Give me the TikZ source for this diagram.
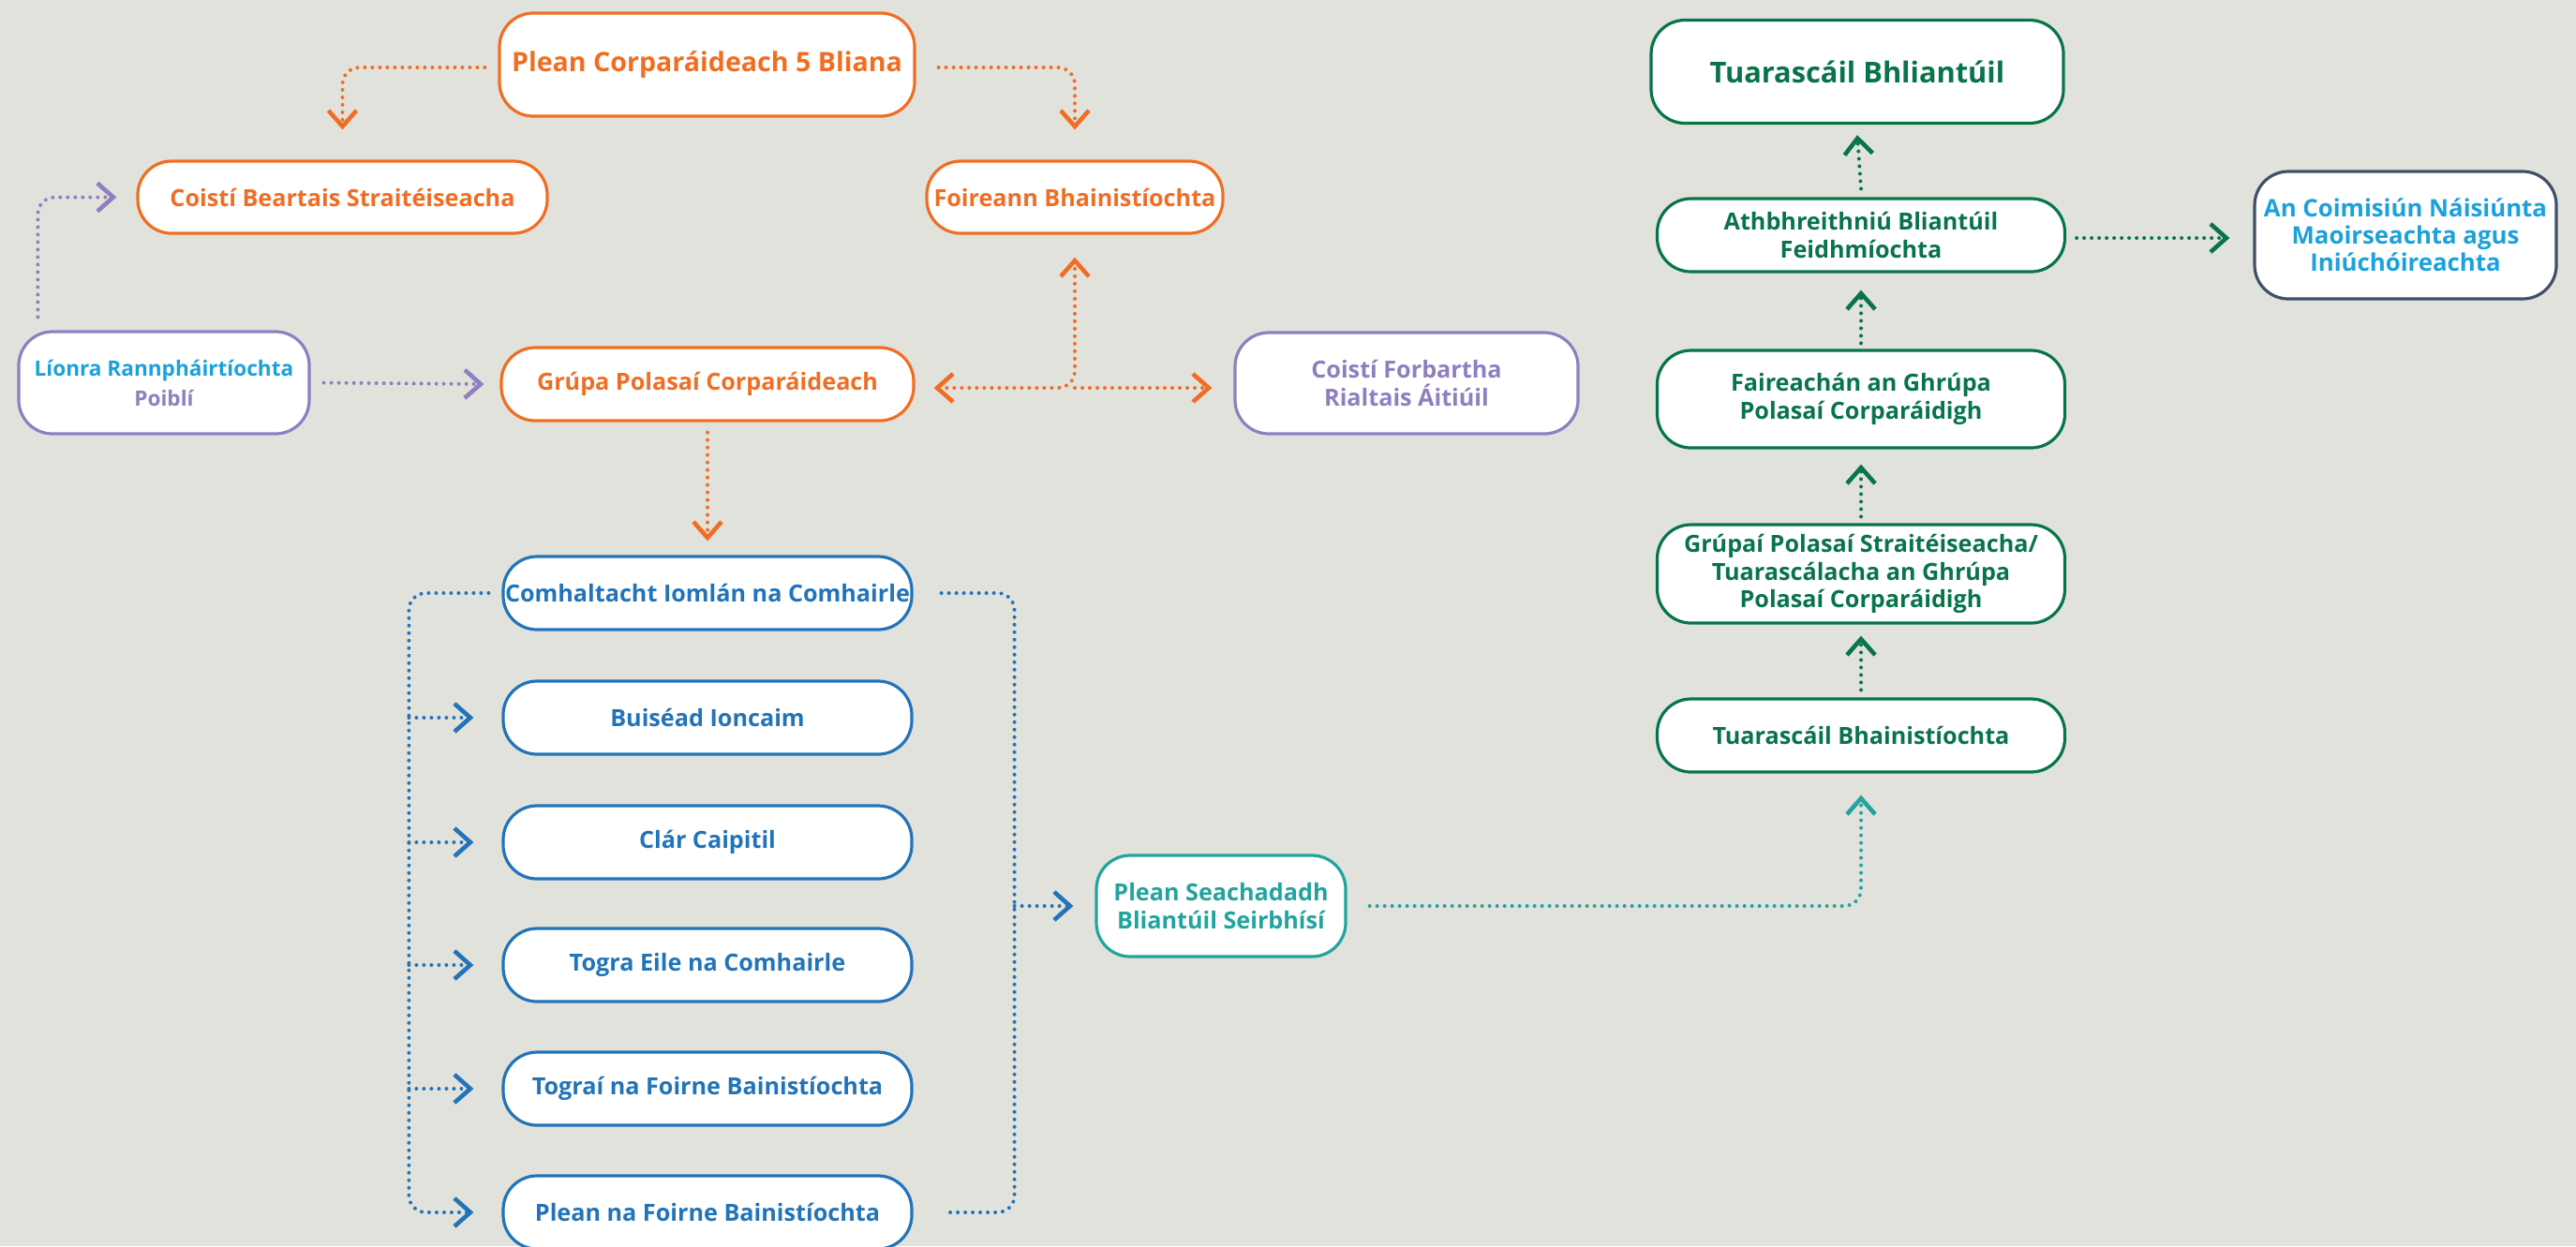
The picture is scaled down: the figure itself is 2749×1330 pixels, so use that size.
\documentclass[tikz,border=0pt]{standalone}
\usepackage{fontspec}
\setmainfont{Open Sans}
\usetikzlibrary{arrows.meta,calc}
\definecolor{bg}{HTML}{E2E2DD}
\definecolor{corange}{HTML}{F06E23}
\definecolor{cpurple}{HTML}{8F7FC0}
\definecolor{cblue}{HTML}{2274B9}
\definecolor{clblue}{HTML}{1BA1DB}
\definecolor{cteal}{HTML}{22A49E}
\definecolor{cgreen}{HTML}{08744A}
\definecolor{cslate}{HTML}{3F5068}
\tikzset{
  box/.style={draw, line width=1.6pt, fill=white, rounded corners=18pt, align=center, inner sep=0pt,
    font=\fontsize{12.6}{14.8}\selectfont\bfseries},
  bigtext/.style={font=\fontsize{14.3}{17}\selectfont\bfseries},
  conn/.style={line width=2pt, line cap=round, dash pattern=on 0pt off 4pt, rounded corners=9pt},
  tip/.style={-{Straight Barb[length=8.5pt,width=15pt,line width=2.3pt]}},
  both/.style={{Straight Barb[length=8.5pt,width=15pt,line width=2.3pt]}-{Straight Barb[length=8.5pt,width=15pt,line width=2.3pt]}},
}
\begin{document}
\begin{tikzpicture}[x=0.5pt,y=-0.5pt]
\useasboundingbox (0,0) rectangle (2749,1330);
\fill[bg] (0,0) rectangle (2749,1330);

% orange group
\node[box, draw=corange, text=corange, bigtext, minimum width=221.5pt, minimum height=55pt] (plan) at (754.5,69) {Plean Corparáideach 5 Bliana};
\node[box, draw=corange, text=corange, minimum width=218.5pt, minimum height=38.5pt] (cbs) at (365.5,210.5) {Coistí Beartais Straitéiseacha};
\node[box, draw=corange, text=corange, minimum width=158pt, minimum height=38.5pt] (foir) at (1147,210.5) {Foireann Bhainistíochta};
\node[box, draw=cpurple, font=\fontsize{11.3}{16}\selectfont\bfseries, minimum width=155pt, minimum height=54.5pt] (lion) at (175,408.5) {\color{clblue}Líonra Rannpháirtíochta\\\color{cpurple}Poiblí};
\node[box, draw=corange, text=corange, minimum width=220pt, minimum height=39pt] (grupa) at (755,410) {Grúpa Polasaí Corparáideach};
\node[box, draw=cpurple, text=cpurple, minimum width=183pt, minimum height=54pt] (cfra) at (1501,409) {Coistí Forbartha\\Rialtais Áitiúil};

% blue group
\node[box, draw=cblue, text=cblue, minimum width=218pt, minimum height=39pt] (b1) at (755,633) {Comhaltacht Iomlán na Comhairle};
\node[box, draw=cblue, text=cblue, minimum width=218pt, minimum height=39pt] (b2) at (755,766) {Buiséad Ioncaim};
\node[box, draw=cblue, text=cblue, minimum width=218pt, minimum height=39pt] (b3) at (755,899) {Clár Caipitil};
\node[box, draw=cblue, text=cblue, minimum width=218pt, minimum height=39pt] (b4) at (755,1030) {Togra Eile na Comhairle};
\node[box, draw=cblue, text=cblue, minimum width=218pt, minimum height=39pt] (b5) at (755,1162) {Tograí na Foirne Bainistíochta};
\node[box, draw=cblue, text=cblue, minimum width=218pt, minimum height=39pt] (b6) at (755,1294) {Plean na Foirne Bainistíochta};

\node[box, draw=cteal, text=cteal, minimum width=133pt, minimum height=54pt] (psb) at (1303,967) {Plean Seachadadh\\Bliantúil Seirbhísí};

% green group
\node[box, draw=cgreen, text=cgreen, font=\fontsize{15.4}{18}\selectfont\bfseries, minimum width=220pt, minimum height=55pt] (tb) at (1982,76.5) {Tuarascáil Bhliantúil};
\node[box, draw=cgreen, text=cgreen, minimum width=217.5pt, minimum height=39pt] (abf) at (1986,251) {Athbhreithniú Bliantúil\\Feidhmíochta};
\node[box, draw=cslate, text=clblue, font=\fontsize{12.9}{14.4}\selectfont\bfseries, minimum width=161pt, minimum height=68pt] (coim) at (2567,251) {An Coimisiún Náisiúnta\\Maoirseachta agus\\Iniúchóireachta};
\node[box, draw=cgreen, text=cgreen, minimum width=217.5pt, minimum height=52pt] (fair) at (1986,426) {Faireachán an Ghrúpa\\Polasaí Corparáidigh};
\node[box, draw=cgreen, text=cgreen, minimum width=217.5pt, minimum height=52.5pt] (grupai) at (1986,612.5) {Grúpaí Polasaí Straitéiseacha/\\Tuarascálacha an Ghrúpa\\Polasaí Corparáidigh};
\node[box, draw=cgreen, text=cgreen, minimum width=217.5pt, minimum height=39pt] (tbh) at (1986,785) {Tuarascáil Bhainistíochta};

% orange connectors
\draw[conn, tip, corange] ([xshift=-7pt,yshift=-1.5pt]plan.west) -| ([yshift=16pt]cbs.north);
\draw[conn, tip, corange] ([xshift=12pt,yshift=-1.5pt]plan.east) -| ([yshift=16pt]foir.north);
\coordinate (j) at (grupa.east -| foir.south);
\draw[conn, both, corange] ([xshift=10pt,yshift=-2pt]grupa.east) -| ([yshift=-12pt]foir.south);
\draw[conn, tip, corange] ([yshift=-2pt]j) -- ([xshift=-11.5pt,yshift=-2pt]cfra.west |- j);
\draw[conn, tip, corange] ([yshift=-5.5pt]grupa.south) -- ([yshift=7.5pt]b1.north);

% purple connectors
\draw[conn, tip, cpurple] ([xshift=11pt,yshift=7pt]lion.north west) |- ([xshift=-10.5pt]cbs.west);
\draw[conn, tip, cpurple] ([xshift=7pt]lion.east) -- ([xshift=-8.5pt]grupa.west);

% blue brackets
\coordinate (lb) at ([xshift=-49.5pt]b1.west);
\coordinate (rb) at ([xshift=54pt]b1.east);
\draw[conn, tip, cblue] ([xshift=-7pt]b1.west) -- (lb) -- (lb |- b6.west) -- ([xshift=-15pt]b6.west);
\foreach \b in {b2,b3,b4,b5}
  \draw[conn, tip, cblue] (lb |- \b.west) -- ([xshift=-15pt]\b.west);
\draw[conn, cblue] ([xshift=15pt]b1.east) -- (rb) -- (rb |- b6.east) -- ([xshift=18pt]b6.east);
\draw[conn, tip, cblue] (rb |- psb.west) -- ([xshift=-11.5pt]psb.west);

% teal connector
\draw[conn, tip, cteal] ([xshift=12pt]psb.east) -| ([yshift=-11.5pt]tbh.south);

% green connectors
\draw[conn, tip, cgreen] ([yshift=4pt]tbh.north) -- ([yshift=-6pt]grupai.south);
\draw[conn, tip, cgreen] ([yshift=3.5pt]grupai.north) -- ([yshift=-8pt]fair.south);
\draw[conn, tip, cgreen] ([yshift=3pt]fair.north) -- ([yshift=-9pt]abf.south);
\draw[conn, tip, cgreen] ([yshift=4.5pt]abf.north) -- ([yshift=-5.5pt]tb.south);
\draw[conn, tip, cgreen] ([xshift=5.5pt,yshift=-1.5pt]abf.east) -- ([xshift=-12.5pt,yshift=-1.5pt]coim.west);
\end{tikzpicture}
\end{document}
